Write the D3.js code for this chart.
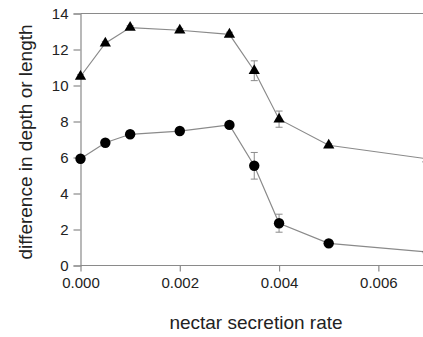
<!DOCTYPE html>
<html><head><meta charset="utf-8">
<script src="https://cdn.jsdelivr.net/npm/d3@7"></script>
<style>body{margin:0;background:#fff}svg{display:block}text{font-family:"Liberation Sans",Arial,sans-serif;fill:#222}</style>
</head><body><svg id="c" width="423" height="337"></svg>
<script>
const rates = [0, 0.0005, 0.001, 0.002, 0.003, 0.0035, 0.004, 0.005, 0.007];
const triangleSeries = [10.5, 12.35, 13.22, 13.07, 12.84, 10.82, 8.13, 6.68, 5.92];
const triangleErr = [0.1, 0.1, 0.1, 0.1, 0.12, 0.55, 0.45, 0.08, 0.08];
const circleSeries = [5.93, 6.82, 7.29, 7.47, 7.81, 5.54, 2.35, 1.23, 0.75];
const circleErr = [0.1, 0.1, 0.1, 0.1, 0.1, 0.74, 0.5, 0.1, 0.1];
const xTicks = [0, 0.002, 0.004, 0.006];
const yTicks = [0, 2, 4, 6, 8, 10, 12, 14];

const svg = d3.select("#c");
const x = d3.scaleLinear().domain([0, 0.007]).range([80.5, 428]);
const y = d3.scaleLinear().domain([0, 14]).range([265.5, 13.5]);
const grey = "#8a8a8a";

svg.append("line").attr("x1", x(0)).attr("x2", 423).attr("y1", y(14)).attr("y2", y(14))
  .attr("stroke", grey).attr("stroke-width", 1.2);

const yAxis = svg.append("g").attr("transform", `translate(${x(0)},0)`)
  .call(d3.axisLeft(y).tickValues(yTicks).tickFormat(d3.format("d")).tickSize(7).tickPadding(5));
const xAxis = svg.append("g").attr("transform", `translate(0,${y(0)})`)
  .call(d3.axisBottom(x).tickValues(xTicks).tickFormat(d3.format(".3f")).tickSize(6).tickPadding(6));
[yAxis, xAxis].forEach(g => {
  g.select(".domain").attr("stroke", grey).attr("stroke-width", 1.2);
  g.selectAll(".tick line").attr("stroke", grey).attr("stroke-width", 1.2);
  g.selectAll(".tick text").style("font-size", "15px").attr("fill", "#222");
});
xAxis.select(".domain").attr("d", `M${x(0)},0H423`);

svg.append("text").attr("transform", `translate(32,142) rotate(-90)`).attr("text-anchor", "middle")
  .style("font-size", "19px").text("difference in depth or length");
svg.append("text").attr("x", 256).attr("y", 329).attr("text-anchor", "middle")
  .style("font-size", "19px").text("nectar secretion rate");

function drawSeries(vals, errs, shape) {
  const data = rates.map((r, i) => ({r, v: vals[i], e: errs[i]}));
  svg.append("path").datum(data).attr("fill", "none").attr("stroke", grey).attr("stroke-width", 1.2)
    .attr("d", d3.line().x(d => x(d.r)).y(d => y(d.v)));
  const eb = svg.append("g").attr("stroke", grey).attr("stroke-width", 1);
  data.forEach(d => {
    eb.append("line").attr("x1", x(d.r)).attr("x2", x(d.r)).attr("y1", y(d.v - d.e)).attr("y2", y(d.v + d.e));
    [d.v - d.e, d.v + d.e].forEach(t => eb.append("line").attr("x1", x(d.r) - 3.5).attr("x2", x(d.r) + 3.5).attr("y1", y(t)).attr("y2", y(t)));
  });
  svg.append("g").selectAll("path").data(data).join("path")
    .attr("transform", d => `translate(${x(d.r)},${y(d.v)})`)
    .attr("d", d3.symbol().type(shape).size(shape === d3.symbolCircle ? 85 : 55))
    .attr("fill", "#000");
}
drawSeries(triangleSeries, triangleErr, d3.symbolTriangle);
drawSeries(circleSeries, circleErr, d3.symbolCircle);
</script></body></html>
